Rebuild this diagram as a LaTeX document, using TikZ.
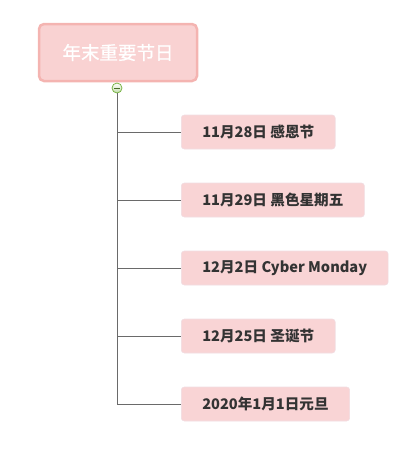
\documentclass[tikz,border=0pt]{standalone}
\usepackage{fontspec}
\setmainfont{Noto Sans CJK SC}
\newfontfamily\rootfont{Noto Sans CJK SC}[FakeBold=0.8]
\definecolor{rootfill}{HTML}{F9D2D2}
\definecolor{rootedge}{HTML}{F4B4B1}
\definecolor{leaffill}{HTML}{F9D4D5}
\definecolor{leafedge}{HTML}{F1DDE2}
\definecolor{branch}{HTML}{6A6A6A}
\definecolor{toggle}{HTML}{78B444}
\tikzset{
  rootbox/.style={draw=rootedge, line width=2.5pt, fill=rootfill, rounded corners=5pt,
    minimum width=158pt, minimum height=57pt, text=white, font=\rootfont\fontsize{18.5}{22}\selectfont},
  leafbox/.style={draw=leafedge, line width=0.6pt, fill=leaffill, rounded corners=3pt,
    anchor=west, minimum height=34pt, inner xsep=21pt, text=black!80,
    font=\bfseries\fontsize{14.6}{17}\selectfont},
  branchline/.style={draw=branch, line width=0.8pt}
}
\begin{document}
\begin{tikzpicture}[x=1pt,y=-1pt]

\useasboundingbox (0,0) rectangle (412,456);

\node[rootbox] (root) at (118,52.5) {年末重要节日};

\node[leafbox] (d1) at (181,132) {11月28日 感恩节};
\node[leafbox] (d2) at (181,200) {11月29日 黑色星期五};
\node[leafbox] (d3) at (181,268) {12月2日 Cyber Monday};
\node[leafbox] (d4) at (181,336) {12月25日 圣诞节};
\node[leafbox] (d5) at (181,404) {2020年1月1日元旦};

\node[circle, draw=toggle, line width=0.8pt, inner sep=0pt, minimum size=10pt,
  top color=white, bottom color=toggle!45] (fold) at (117,88) {};
\draw[toggle!60!black, line width=0.9pt] ([xshift=-3pt]fold.center) -- ([xshift=3pt]fold.center);

\coordinate (trunk) at (117,404);
\draw[branchline] (fold.south) -- (trunk);

\foreach \d in {d1,d2,d3,d4,d5} {
    \draw[branchline] (fold.center |- \d.west) -- (\d.west);
}

\end{tikzpicture}
\end{document}
